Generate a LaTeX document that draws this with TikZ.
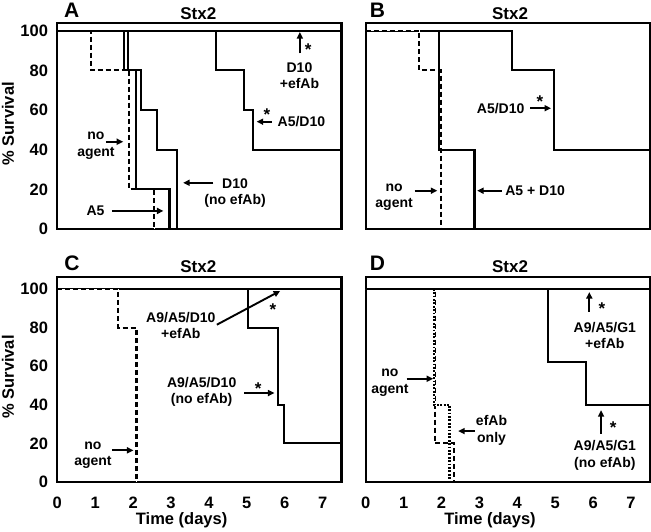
\documentclass[tikz,border=0pt]{standalone}
\usepackage{fontspec}
\setmainfont{Liberation Sans}
\usepackage{tikz}
\usetikzlibrary{arrows.meta}

\tikzset{
  frm/.style={line width=2.2pt},
  crv/.style={line width=2.1pt},
  dsh/.style={crv, dash pattern=on 5pt off 3pt, preaction={draw=white, solid}},
  dtt/.style={crv, dash pattern=on 1.8pt off 1.6pt, preaction={draw=white, solid}},
  ptr/.style={-{Triangle[length=6.5pt,width=6pt]}, line width=1.9pt},
  lbl/.style={font=\fontsize{14}{16.5}\selectfont\bfseries, align=center, inner sep=0pt},
  tck/.style={font=\fontsize{16.5}{18}\selectfont\bfseries, inner sep=0pt},
  ttl/.style={font=\fontsize{17}{19}\selectfont\bfseries, inner sep=0pt},
  pnl/.style={font=\fontsize{21}{23}\selectfont\bfseries, inner sep=0pt},
  star/.style={font=\fontsize{17}{18}\selectfont\bfseries, inner sep=0pt, yshift=-3.5pt}
}

\begin{document}
\begin{tikzpicture}[x=1pt,y=1pt]
\useasboundingbox (0,0) rectangle (651,532);

% Panel A
\begin{scope}[shift={(57.3,303)}, x=37.9pt, y=1.983pt]
\draw[frm] (0,0) rectangle (7.5,103.7);
\node[pnl] (A-let) at (0.38,110.4) {A};
\node[ttl] (A-ttl) at (3.72,108.8) {Stx2};
\foreach \v in {0,20,...,100}
  \node[tck, anchor=east] (A-y\v) at (-0.24,\v) {\v};
\node[tck, rotate=90] (A-ylab) at (-1.30,53) {\% Survival};
\draw[dsh] (0,100) -| (0.90,80) -| (1.90,20) -| (2.55,0);
\draw[crv] (0,100) -| (1.77,80) -| (2.07,20) -| (2.96,0);
\draw[crv] (0,100) -| (1.87,80) -| (2.21,60) -| (2.63,40) -| (3.17,0);
\draw[crv] (0,100) -| (4.19,80) -| (4.93,60) -| (5.17,40) -- (7.5,40);
\draw[crv] (0,100) -- (7.5,100);
% labels
\node[lbl] (A-ef) at (6.39,77.3) {D10\\+efAb};
\coordinate (A-ef-s) at (6.40,88.6);
\coordinate (A-ef-e) at (6.40,99.3);
\draw[ptr] (A-ef-s) -- (A-ef-e);
\node[star] (A-ef-st) at (6.62,92.3) {*};
\node[lbl] (A-ad) at (6.44,54.1) {A5/D10};
\coordinate (A-ad-s) at (5.66,54.1);
\coordinate (A-ad-e) at (5.26,54.1);
\draw[ptr] (A-ad-s) -- (A-ad-e);
\node[star] (A-ad-st) at (5.53,59.2) {*};
\node[lbl] (A-na) at (1.02,42.1) {no\\agent};
\coordinate (A-na-s) at (1.28,44);
\coordinate (A-na-e) at (1.74,44);
\draw[ptr] (A-na-s) -- (A-na-e);
\node[lbl] (A-a5) at (1.01,9.1) {A5};
\coordinate (A-a5-s) at (1.44,9.1);
\coordinate (A-a5-e) at (2.80,9.1);
\draw[ptr] (A-a5-s) -- (A-a5-e);
\node[lbl] (A-d10) at (4.69,18.2) {D10\\(no efAb)};
\coordinate (A-d10-s) at (4.12,23.3);
\coordinate (A-d10-e) at (3.32,23.3);
\draw[ptr] (A-d10-s) -- (A-d10-e);
\end{scope}

% Panel B
\begin{scope}[shift={(365.7,303)}, x=37.9pt, y=1.983pt]
\draw[frm] (0,0) rectangle (7.5,103.7);
\node[pnl] (B-let) at (0.31,110.4) {B};
\node[ttl] (B-ttl) at (3.81,108.8) {Stx2};
\draw[crv] (0,100) -| (3.85,80) -| (4.98,40) -- (7.5,40);
\draw[crv] (0,100) -| (1.94,40) -| (2.87,0);
\draw[dsh] (0,100) -| (1.41,80) -| (1.98,0);
% labels
\node[lbl] (B-ad) at (3.56,60.9) {A5/D10};
\coordinate (B-ad-s) at (4.34,60.9);
\coordinate (B-ad-e) at (4.89,60.9);
\draw[ptr] (B-ad-s) -- (B-ad-e);
\node[star] (B-ad-st) at (4.60,65.9) {*};
\node[lbl] (B-na) at (0.75,16.1) {no\\agent};
\coordinate (B-na-s) at (1.29,19.3);
\coordinate (B-na-e) at (1.89,19.3);
\draw[ptr] (B-na-s) -- (B-na-e);
\node[lbl] (B-pl) at (4.47,19.3) {A5 + D10};
\coordinate (B-pl-s) at (3.59,19.3);
\coordinate (B-pl-e) at (2.94,19.3);
\draw[ptr] (B-pl-s) -- (B-pl-e);
\end{scope}

% Panel C
\begin{scope}[shift={(57.3,50)}, x=37.9pt, y=1.93pt]
\draw[frm] (0,0) rectangle (7.5,106.4);
\node[pnl] (C-let) at (0.39,113.3) {C};
\node[ttl] (C-ttl) at (3.72,111.6) {Stx2};
\foreach \v in {0,20,...,100}
  \node[tck, anchor=east] (C-y\v) at (-0.24,\v) {\v};
\foreach \t in {0,...,7}
  \node[tck] (C-x\t) at (\t,-10.7) {\t};
\node[tck, rotate=90] (C-ylab) at (-1.30,54.4) {\% Survival};
\node[tck] (C-xlab) at (3.28,-19.8) {Time (days)};
\draw[crv] (0,100) -- (7.5,100);
\draw[crv] (0,100) -| (5.02,80) -| (5.82,40) -| (5.97,20) -- (7.5,20);
\draw[dsh] (0,100) -| (1.61,80) -| (2.09,0);
% labels
\node[lbl] (C-ef) at (3.26,81.2) {A9/A5/D10\\+efAb};
\coordinate (C-ef-s) at (4.21,81.5);
\coordinate (C-ef-e) at (5.88,99);
\draw[ptr] (C-ef-s) -- (C-ef-e);
\node[star] (C-ef-st) at (5.69,91.0) {*};
\node[lbl] (C-ne) at (3.81,46.6) {A9/A5/D10\\(no efAb)};
\coordinate (C-ne-s) at (4.93,46.1);
\coordinate (C-ne-e) at (5.73,46.1);
\draw[ptr] (C-ne-s) -- (C-ne-e);
\node[star] (C-ne-st) at (5.30,50.4) {*};
\node[lbl] (C-na) at (0.94,13.8) {no\\agent};
\coordinate (C-na-s) at (1.44,16.4);
\coordinate (C-na-e) at (2.01,16.4);
\draw[ptr] (C-na-s) -- (C-na-e);
\end{scope}

% Panel D
\begin{scope}[shift={(365.7,50)}, x=37.9pt, y=1.93pt]
\draw[frm] (0,0) rectangle (7.5,106.4);
\node[pnl] (D-let) at (0.31,113.3) {D};
\node[ttl] (D-ttl) at (3.81,111.6) {Stx2};
\foreach \t in {0,...,7}
  \node[tck] (D-x\t) at (\t,-10.7) {\t};
\node[tck] (D-xlab) at (3.28,-19.8) {Time (days)};
\draw[dsh] (0,100) -| (1.83,20) -| (2.34,0);
\draw[dtt] (0,100) -| (1.80,40) -| (2.21,0);
\draw[crv] (0,100) -- (7.5,100);
\draw[crv] (0,100) -| (4.80,62) -| (5.81,40) -- (7.5,40);
% labels
\node[lbl] (D-na) at (0.64,51.5) {no\\agent};
\coordinate (D-na-s) at (1.08,53.5);
\coordinate (D-na-e) at (1.78,53.5);
\draw[ptr] (D-na-s) -- (D-na-e);
\node[lbl] (D-eo) at (3.32,26.8) {efAb\\only};
\coordinate (D-eo-s) at (2.88,26.4);
\coordinate (D-eo-e) at (2.44,26.4);
\draw[ptr] (D-eo-s) -- (D-eo-e);
\node[lbl] (D-ef) at (6.31,76.0) {A9/A5/G1\\+efAb};
\coordinate (D-ef-s) at (5.90,88.1);
\coordinate (D-ef-e) at (5.90,98.4);
\draw[ptr] (D-ef-s) -- (D-ef-e);
\node[star] (D-ef-st) at (6.23,91.6) {*};
\node[lbl] (D-ne) at (6.31,13.8) {A9/A5/G1\\(no efAb)};
\coordinate (D-ne-s) at (6.21,25.0);
\coordinate (D-ne-e) at (6.21,37.2);
\draw[ptr] (D-ne-s) -- (D-ne-e);
\node[star] (D-ne-st) at (6.53,30.2) {*};
\end{scope}
\end{tikzpicture}
\end{document}
